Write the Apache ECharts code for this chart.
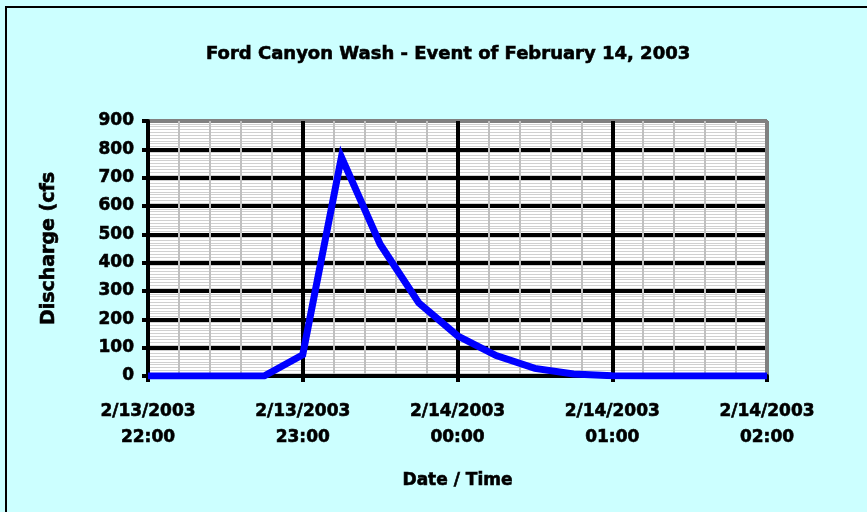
<!DOCTYPE html>
<html>
<head>
<meta charset="utf-8">
<script src="https://cdn.jsdelivr.net/npm/echarts@6/dist/echarts.min.js"></script>
<style>
html,body{margin:0;padding:0;background:#CCFFFF;}
#chart{width:867px;height:512px;}
</style>
</head>
<body>
<div id="chart"></div>
<script>
// Data (times are 15-minute readings, UTC-neutral)
var times = ["2/13/2003 22:00","2/13/2003 22:15","2/13/2003 22:30","2/13/2003 22:45",
             "2/13/2003 23:00","2/13/2003 23:15","2/13/2003 23:30","2/13/2003 23:45",
             "2/14/2003 00:00","2/14/2003 00:15","2/14/2003 00:30","2/14/2003 00:45",
             "2/14/2003 01:00","2/14/2003 01:15","2/14/2003 01:30","2/14/2003 01:45",
             "2/14/2003 02:00"];
var discharge = [0, 0, 0, 0, 75, 773, 465, 258, 142, 72, 27, 7, 1, 0, 0, 0, 0];
var yTicks = [0, 100, 200, 300, 400, 500, 600, 700, 800, 900];
var titleText = "Ford Canyon Wash - Event of February 14, 2003";
var xName = "Date / Time";
var yName = "Discharge (cfs";

function parseT(s) {
  var p = s.split(" "), d = p[0].split("/"), t = p[1].split(":");
  return Date.UTC(+d[2], +d[0] - 1, +d[1], +t[0], +t[1]);
}
function pad(n) { return (n < 10 ? "0" : "") + n; }
function fmt(v) {
  var d = new Date(v);
  return (d.getUTCMonth() + 1) + "/" + d.getUTCDate() + "/" + d.getUTCFullYear() +
         "\n" + pad(d.getUTCHours()) + ":" + pad(d.getUTCMinutes());
}
var pts = times.map(function (t, i) { return [parseT(t), discharge[i]]; });
var HOUR = 3600000;
var FONT = "DejaVu Sans";
var heavy = { textBorderColor: "#000", textBorderWidth: 0.6 };

var chart = echarts.init(document.getElementById("chart"));
chart.setOption({
  backgroundColor: "#CCFFFF",
  animation: false,
  title: {
    text: titleText, left: 201, top: 40,
    textStyle: Object.assign({ fontFamily: FONT, fontWeight: "bold", fontSize: 18, color: "#000" }, heavy)
  },
  graphic: [{
    type: "rect", shape: { x: 6, y: 7, width: 900, height: 600 },
    style: { fill: null, stroke: "#000", lineWidth: 2 }, z: 100
  }],
  grid: {
    left: 148, right: 100, top: 121, bottom: 136,
    show: true, backgroundColor: "#FFFFFF", borderColor: "#808080", borderWidth: 2
  },
  xAxis: {
    type: "value",
    min: parseT(times[0]), max: parseT(times[times.length - 1]), interval: HOUR,
    name: xName, nameLocation: "middle", nameGap: 96,
    nameTextStyle: Object.assign({ fontFamily: FONT, fontWeight: "bold", fontSize: 17, color: "#000" }, heavy),
    axisLine: { show: true, lineStyle: { color: "#000", width: 4 } },
    axisTick: { show: true, length: 6, lineStyle: { color: "#000", width: 4 } },
    axisLabel: Object.assign({
      formatter: fmt, margin: 23, lineHeight: 26,
      fontFamily: FONT, fontWeight: "bold", fontSize: 17, color: "#000"
    }, heavy),
    splitLine: { show: true, lineStyle: { color: ["#000", "#000", "#000", "#000", "#808080"], width: 4 } },
    minorTick: { show: false, splitNumber: 5 },
    minorSplitLine: { show: true, lineStyle: { color: "#C0C0C0", width: 2 } }
  },
  yAxis: {
    type: "value", min: yTicks[0], max: yTicks[yTicks.length - 1], interval: 100,
    name: yName, nameLocation: "middle", nameGap: 89, nameRotate: 90,
    nameTextStyle: Object.assign({ fontFamily: FONT, fontWeight: "bold", fontSize: 19, color: "#000" }, heavy),
    axisLine: { show: true, lineStyle: { color: "#000", width: 4 } },
    axisTick: { show: true, length: 6, lineStyle: { color: "#000", width: 4 } },
    axisLabel: Object.assign({ margin: 14, fontFamily: FONT, fontWeight: "bold", fontSize: 17, color: "#000" }, heavy),
    splitLine: {
      show: true,
      lineStyle: { color: ["#000", "#000", "#000", "#000", "#000", "#000", "#000", "#000", "#000", "#808080"], width: 4 }
    },
    minorTick: { show: false, splitNumber: 10 },
    minorSplitLine: { show: true, lineStyle: { color: "#D0D0D0", width: 1 } }
  },
  series: [{
    type: "line", data: pts, showSymbol: false, symbol: "none",
    lineStyle: { color: "#0000FF", width: 7, join: "miter" }, z: 5
  }]
});
</script>
</body>
</html>
